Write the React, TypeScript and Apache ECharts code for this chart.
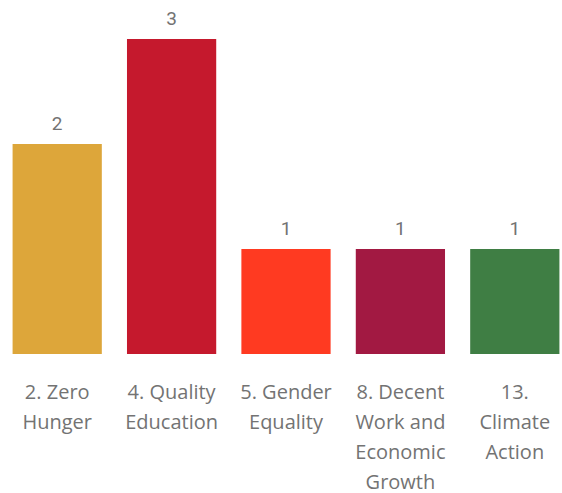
import React, { useEffect, useRef } from "react";
import * as echarts from "echarts";

const categories = [
  "2. Zero\nHunger",
  "4. Quality\nEducation",
  "5. Gender\nEquality",
  "8. Decent\nWork and\nEconomic\nGrowth",
  "13.\nClimate\nAction",
];
const values = [2, 3, 1, 1, 1];
const colors = ["#DDA63A", "#C5192D", "#FF3A21", "#A21942", "#3F7E44"];

export default function App() {
  const ref = useRef<HTMLDivElement>(null);
  useEffect(() => {
    if (!ref.current) return;
    const chart = echarts.init(ref.current, null, { renderer: "svg" });
    chart.setOption({
      animation: false,
      grid: {
        left: 0,
        top: 39,
        width: 572,
        height: 315,
        containLabel: false,
        outerBoundsMode: "none",
      },
      xAxis: {
        type: "category",
        data: categories,
        axisLine: { show: false },
        axisTick: { show: false },
        axisLabel: {
          color: "#737373",
          fontFamily: "Open Sans",
          fontSize: 20,
          lineHeight: 30,
          margin: 22,
          interval: 0,
        },
      },
      yAxis: {
        type: "value",
        min: 0,
        max: 3,
        show: false,
        splitLine: { show: false },
      },
      series: [
        {
          type: "bar",
          data: values.map((v, i) => ({ value: v, itemStyle: { color: colors[i] } })),
          barCategoryGap: "22%",
          label: {
            show: true,
            position: "top",
            distance: 11,
            color: "#737373",
            fontFamily: "Roboto",
            fontSize: 19,
          },
        },
      ],
    });
    return () => chart.dispose();
  }, []);
  return (
    <div
      ref={ref}
      style={{ position: "absolute", left: 0, top: 0, width: 562, height: 493 }}
    />
  );
}
